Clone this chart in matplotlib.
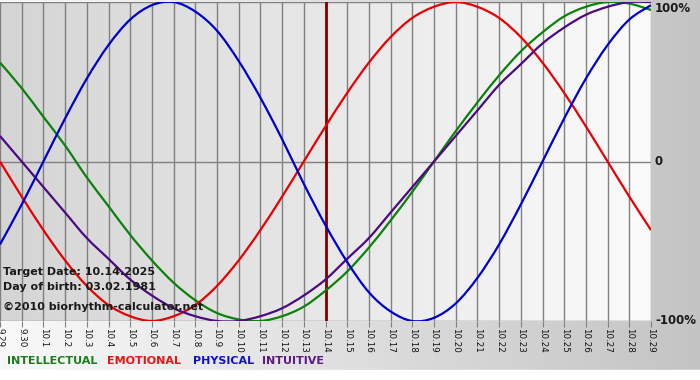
import numpy as np
import matplotlib
matplotlib.use("Agg")
import matplotlib.pyplot as plt
from matplotlib.colors import LinearSegmentedColormap
from matplotlib.patches import Rectangle, PathPatch
from matplotlib.path import Path

# Fechas (eje x) del 9.29 al 10.29
fechas = ["9.29", "9.30"] + [f"10.{d}" for d in range(1, 30)]

# Valores (-1 .. 1)
intelectual = [0.62, 0.46, 0.28, 0.10, -0.10, -0.28, -0.46, -0.62, -0.76, -0.87,
               -0.95, -0.99, -1.00, -0.97, -0.91, -0.81, -0.69, -0.54, -0.37, -0.19,
               0.00, 0.19, 0.37, 0.54, 0.69, 0.81, 0.91, 0.97, 1.00, 0.99, 0.95]
emocional = [0.00, -0.22, -0.43, -0.62, -0.78, -0.90, -0.97, -1.00, -0.97, -0.90,
             -0.78, -0.62, -0.43, -0.22, 0.00, 0.22, 0.43, 0.62, 0.78, 0.90,
             0.97, 1.00, 0.97, 0.90, 0.78, 0.62, 0.43, 0.22, 0.00, -0.22, -0.43]
fisico = [-0.52, -0.27, 0.00, 0.27, 0.52, 0.73, 0.89, 0.98, 1.00, 0.94,
          0.82, 0.63, 0.40, 0.14, -0.14, -0.40, -0.63, -0.82, -0.94, -1.00,
          -0.98, -0.89, -0.73, -0.52, -0.27, 0.00, 0.27, 0.52, 0.73, 0.89, 0.98]
intuitivo = [0.16, 0.00, -0.16, -0.32, -0.48, -0.61, -0.74, -0.84, -0.92, -0.97,
             -1.00, -1.00, -0.97, -0.92, -0.84, -0.74, -0.61, -0.48, -0.32, -0.16,
             0.00, 0.16, 0.32, 0.48, 0.61, 0.74, 0.84, 0.92, 0.97, 1.00, 1.00]

fecha_objetivo = "10.14"
etiquetas_y = ["100%", "0", "-100%"]
valores_y = [1, 0, -1]

series = [
    ("INTELLECTUAL", intelectual, "#0a820a", "#1a7f1a"),
    ("EMOTIONAL", emocional, "#e80000", "#ee1111"),
    ("INTUITIVE", intuitivo, "#4b0a80", "#5a1a8a"),
    ("PHYSICAL", fisico, "#0000cc", "#1010cc"),
]


def curva_suave(xs, ys):
    # trazo Bezier que pasa por cada punto (solo dibujo, los datos no cambian)
    p = np.column_stack([xs, ys]).astype(float)
    ext = np.vstack([p[0], p, p[-1]])
    verts = [p[0]]
    codes = [Path.MOVETO]
    for i in range(len(p) - 1):
        p0, p1, p2, p3 = ext[i], ext[i + 1], ext[i + 2], ext[i + 3]
        verts += [p1 + (p2 - p0) / 6, p2 - (p3 - p1) / 6, p2]
        codes += [Path.CURVE4] * 3
    return Path(verts, codes)


fig = plt.figure(figsize=(7, 3.8), dpi=100)

# fondo degradado de la figura
fondo = fig.add_axes([0, 0, 1, 1], zorder=-10)
fondo.axis("off")
grad = np.linspace(0, 1, 256).reshape(1, -1)
fondo.imshow(grad, cmap=LinearSegmentedColormap.from_list("f", ["#f9f9f9", "#c4c4c4"]),
             aspect="auto", extent=[0, 1, 0, 1])
fondo.add_patch(Rectangle((0, 0), 1, 10 / 380, color="white"))
fondo.set_xlim(0, 1)
fondo.set_ylim(0, 1)

ax = fig.add_axes([0, 59 / 380, 651 / 700, 319 / 380])
x = np.arange(len(fechas))
ax.imshow(grad, cmap=LinearSegmentedColormap.from_list("p", ["#d5d5d5", "#fbfbfb"]),
          aspect="auto", extent=[x[0], x[-1], -1, 1], zorder=0)

for xi in x:
    ax.axvline(xi, color="#808080", lw=1, zorder=1)
for v in valores_y:
    ax.axhline(v, color="#808080", lw=1, zorder=1)

ax.axvline(fechas.index(fecha_objetivo), color="#800000", lw=2, zorder=2)

for nombre, datos, color, _ in series:
    ax.add_patch(PathPatch(curva_suave(x, datos), facecolor="none", edgecolor=color,
                           lw=1.6, zorder=3))

ax.set_xlim(x[0], x[-1])
ax.set_ylim(-1, 1)
for s in ax.spines.values():
    s.set_visible(False)
ax.set_yticks([])
ax.set_xticks(x)
ax.set_xticklabels(fechas, rotation=-90, fontsize=6.3, color="#111111")
ax.tick_params(axis="x", length=4, color="#808080", pad=1)

# etiquetas del eje y a la derecha
for v, t in zip(valores_y, etiquetas_y):
    ax.text(1.006, v, t, transform=ax.get_yaxis_transform(), ha="left",
            va="top" if v == 1 else "center", fontsize=8.5, fontweight="bold",
            color="#1a1a1a", clip_on=False)

# textos informativos
fig.text(3 / 700, 1 - 272 / 380, "Target Date: 10.14.2025", fontsize=8, fontweight="bold",
         color="#1a1a1a", va="center")
fig.text(3 / 700, 1 - 287 / 380, "Day of birth: 03.02.1981", fontsize=8, fontweight="bold",
         color="#1a1a1a", va="center")
fig.text(3 / 700, 1 - 307 / 380, "©2010 biorhythm-calculator.net", fontsize=8,
         fontweight="bold", color="#1a1a1a", va="center")

# leyenda
orden = ["INTELLECTUAL", "EMOTIONAL", "PHYSICAL", "INTUITIVE"]
pos_x = [7, 107, 193, 262]
colores_ley = {n: c for n, _, _, c in series}
for nombre, px in zip(orden, pos_x):
    fig.text(px / 700, 1 - 361 / 380, nombre, fontsize=8, fontweight="bold",
             color=colores_ley[nombre], va="center")

fig.savefig("out.png", dpi=100)
